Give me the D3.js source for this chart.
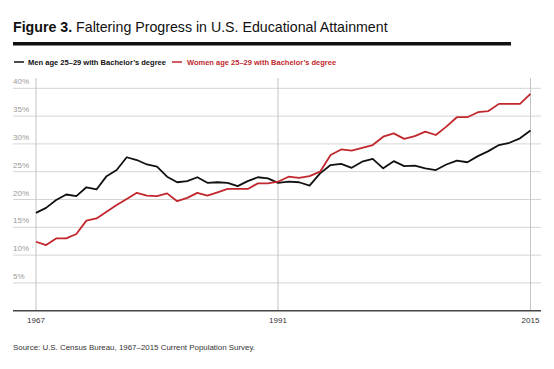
<!DOCTYPE html>
<html>
<head>
<meta charset="utf-8">
<script src="https://cdn.jsdelivr.net/npm/d3@7"></script>
<style>
  html, body { margin: 0; padding: 0; background: #fff; }
  svg { display: block; font-family: "Liberation Sans", Arial, sans-serif; }
</style>
</head>
<body>
<svg id="chart" width="554" height="369"></svg>
<script>
const years = d3.range(1967, 2016);
const men = [17.6, 18.5, 19.9, 20.9, 20.6, 22.2, 21.8, 24.2, 25.3, 27.6,
  27.1, 26.3, 25.9, 24.1, 23.1, 23.3, 24.0, 23.0, 23.1, 23.0,
  22.4, 23.3, 24.0, 23.8, 23.0, 23.2, 23.1, 22.5, 24.7, 26.2,
  26.4, 25.7, 26.8, 27.3, 25.6, 26.9, 26.0, 26.1, 25.6, 25.3,
  26.3, 27.0, 26.7, 27.8, 28.7, 29.8, 30.2, 31.0, 32.4];
const women = [12.4, 11.8, 13.0, 13.0, 13.8, 16.2, 16.6, 17.8, 19.0, 20.1,
  21.2, 20.7, 20.6, 21.1, 19.7, 20.3, 21.2, 20.7, 21.3, 21.9,
  21.9, 21.9, 22.9, 22.9, 23.2, 24.1, 23.9, 24.2, 25.0, 28.0,
  29.0, 28.8, 29.3, 29.8, 31.3, 31.9, 30.9, 31.4, 32.2, 31.6,
  33.1, 34.8, 34.8, 35.7, 35.9, 37.2, 37.2, 37.2, 39.0];
const yTicks = [5, 10, 15, 20, 25, 30, 35, 40];
const xTicks = [1967, 1991, 2015];
const seriesNames = ["Men age 25\u201329 with Bachelor\u2019s degree", "Women age 25\u201329 with Bachelor\u2019s degree"];
const colors = ["#111111", "#c1272d"];
const title = ["Figure 3.", " Faltering Progress in U.S. Educational Attainment"];
const source = "Source: U.S. Census Bureau, 1967\u20132015 Current Population Survey.";

const svg = d3.select("#chart");
const x = d3.scaleLinear().domain([1967, 1991, 2015]).range([36, 278, 530.5]);
const y = d3.scaleLinear().domain([0, 40]).range([310.7, 88.3]);

function fit(sel, w) {
  const n = sel.node();
  const len = n.getComputedTextLength();
  const fs = parseFloat(sel.attr("font-size"));
  sel.attr("font-size", (fs * w / len).toFixed(2));
}

// Title
const t = svg.append("text").attr("x", 13).attr("y", 31.7).attr("font-size", 15.5).attr("fill", "#111");
t.append("tspan").attr("font-weight", "bold").text(title[0]);
t.append("tspan").text(title[1]);
fit(t, 375);
svg.append("rect").attr("x", 13).attr("y", 42).attr("width", 498).attr("height", 3.5).attr("fill", "#111");

// Legend
const leg = [{x0: 14, tx: 28, w: 138}, {x0: 172, tx: 187, w: 149}];
leg.forEach((l, i) => {
  svg.append("line").attr("x1", l.x0).attr("x2", l.x0 + 10).attr("y1", 62).attr("y2", 62)
    .attr("stroke", colors[i]).attr("stroke-width", 1.5);
  const lt = svg.append("text").attr("x", l.tx).attr("y", 64.5).attr("font-size", 7)
    .attr("font-weight", "bold").attr("fill", colors[i]).text(seriesNames[i]);
  fit(lt, l.w);
});

// Gridlines
svg.append("g").selectAll("line").data(yTicks).join("line")
  .attr("x1", 13).attr("x2", 541).attr("y1", d => y(d)).attr("y2", d => y(d))
  .attr("stroke", "#d4d4d4").attr("stroke-width", 1);
svg.append("g").selectAll("text").data(yTicks).join("text")
  .attr("x", 13).attr("y", d => y(d) - 4).attr("font-size", 8).attr("fill", "#9a9a9a")
  .text(d => d + "%");

// Vertical lines
svg.append("g").selectAll("line").data(xTicks).join("line")
  .attr("x1", d => x(d)).attr("x2", d => x(d)).attr("y1", 78).attr("y2", y(0))
  .attr("stroke", "#c4c4c4").attr("stroke-width", 1);

// Baseline
svg.append("line").attr("x1", 13).attr("x2", 541).attr("y1", y(0)).attr("y2", y(0))
  .attr("stroke", "#444").attr("stroke-width", 1.6);

// X labels
svg.append("g").selectAll("text").data(xTicks).join("text")
  .attr("x", d => x(d)).attr("y", 323).attr("text-anchor", "middle")
  .attr("font-size", 8).attr("fill", "#333").text(d => d);

// Lines
const line = d3.line().x((d, i) => x(years[i])).y(d => y(d));
[men, women].forEach((s, i) => {
  svg.append("path").datum(s).attr("d", line).attr("fill", "none")
    .attr("stroke", colors[i]).attr("stroke-width", 1.8).attr("stroke-linejoin", "round");
});

// Source
const st = svg.append("text").attr("x", 13).attr("y", 349.5).attr("font-size", 8).attr("fill", "#333").text(source);
fit(st, 242);
</script>
</body>
</html>
